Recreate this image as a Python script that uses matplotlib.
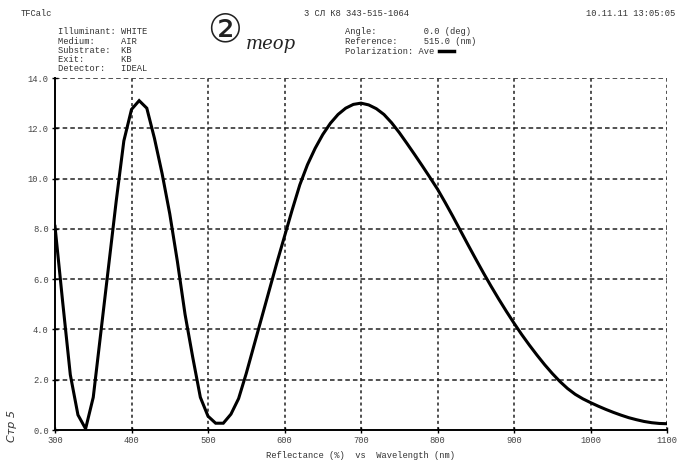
import matplotlib
matplotlib.use("Agg")
import matplotlib.pyplot as plt

wavelength = list(range(300, 1101, 10))
reflectance = [
    8.1, 5.1, 2.2, 0.6, 0.05, 1.3, 3.9, 6.5, 9.1, 11.5,          # 300-390
    12.75, 13.1, 12.8, 11.6, 10.2, 8.6, 6.7, 4.6, 2.9, 1.3,      # 400-490
    0.55, 0.27, 0.27, 0.63, 1.25, 2.25, 3.35, 4.45, 5.55, 6.65,  # 500-590
    7.7, 8.75, 9.75, 10.55, 11.2, 11.75, 12.2, 12.55, 12.8, 12.95,  # 600-690
    13.0, 12.93, 12.78, 12.55, 12.22, 11.83, 11.4, 10.96, 10.51, 10.05,  # 700-790
    9.58, 9.05, 8.5, 7.93, 7.36, 6.8, 6.25, 5.72, 5.21, 4.72,   # 800-890
    4.25, 3.8, 3.38, 2.98, 2.6, 2.25, 1.93, 1.65, 1.42, 1.24,   # 900-990
    1.09, 0.95, 0.82, 0.7, 0.59, 0.49, 0.41, 0.34, 0.29, 0.26,  # 1000-1090
    0.25,                                                       # 1100
]
x_ticks = [300, 400, 500, 600, 700, 800, 900, 1000, 1100]
y_ticks = [0.0, 2.0, 4.0, 6.0, 8.0, 10.0, 12.0, 14.0]

mono = "Liberation Mono"
fs = 6.3

fig = plt.figure(figsize=(6.8, 4.61), dpi=100)
ax = fig.add_axes([55/680, 1-430/461, (667-55)/680, (430-78)/461])
ax.plot(wavelength, reflectance, color="black", lw=2.2, solid_joinstyle="miter")
ax.set_xlim(300, 1100)
ax.set_ylim(0, 14)
ax.set_xticks(x_ticks)
ax.set_yticks(y_ticks)
ax.set_xticklabels([str(v) for v in x_ticks], fontfamily=mono, fontsize=fs, color="#444444")
ax.set_yticklabels([f"{v:.1f}" for v in y_ticks], fontfamily=mono, fontsize=fs, color="#444444")
ax.tick_params(axis="both", direction="inout", length=5, width=1, pad=2, color="black")

for x in x_ticks[1:]:
    ax.axvline(x, color="#222222", lw=1.1, ls=(0, (2, 2)), zorder=0)
for y in y_ticks[1:]:
    ax.axhline(y, color="#222222", lw=1.1, ls=(0, (3, 2)), zorder=0)
for s in ["top", "right"]:
    ax.spines[s].set_visible(False)
ax.spines["left"].set_linewidth(1.4)
ax.spines["bottom"].set_linewidth(1.4)

ax.set_xlabel("Reflectance (%)  vs  Wavelength (nm)", fontfamily=mono, fontsize=fs,
              color="#333333", labelpad=4)

def T(x, y, s, **kw):
    kw.setdefault("fontfamily", mono)
    kw.setdefault("fontsize", fs)
    kw.setdefault("color", "#333333")
    fig.text(x/680, 1-y/461, s, va="center", **kw)

T(21, 13, "TFCalc")
T(356, 13, "3 СЛ К8 343-515-1064", ha="center")
T(675, 13, "10.11.11 13:05:05", ha="right")
left_lines = ["Illuminant: WHITE", "Medium:     AIR", "Substrate:  KB", "Exit:       KB", "Detector:   IDEAL"]
for i, s in enumerate(left_lines):
    T(58, 32 + i*9.2, s)
right_lines = ["Angle:         0.0 (deg)", "Reference:     515.0 (nm)", "Polarization: Ave"]
for i, s in enumerate(right_lines):
    T(345, 32 + i*9.5, s)
fig.add_artist(plt.Line2D([439/680, 454/680], [1-51/461, 1-51/461], color="black", lw=2.5))

fig.text(225/680, 1-30/461, "②", fontsize=28, family=["DejaVu Sans", "Noto Sans CJK JP"],
         color="#222222", va="center", ha="center")
fig.text(246/680, 1-44/461, "теор", fontsize=13, family="DejaVu Serif", style="italic",
         color="#222222", va="center")
fig.text(12/680, 1-426/461, "Стр 5", fontsize=8, family="DejaVu Sans", style="italic",
         rotation=90, color="#333333", va="center", ha="center")

fig.savefig("out.png", dpi=100)
